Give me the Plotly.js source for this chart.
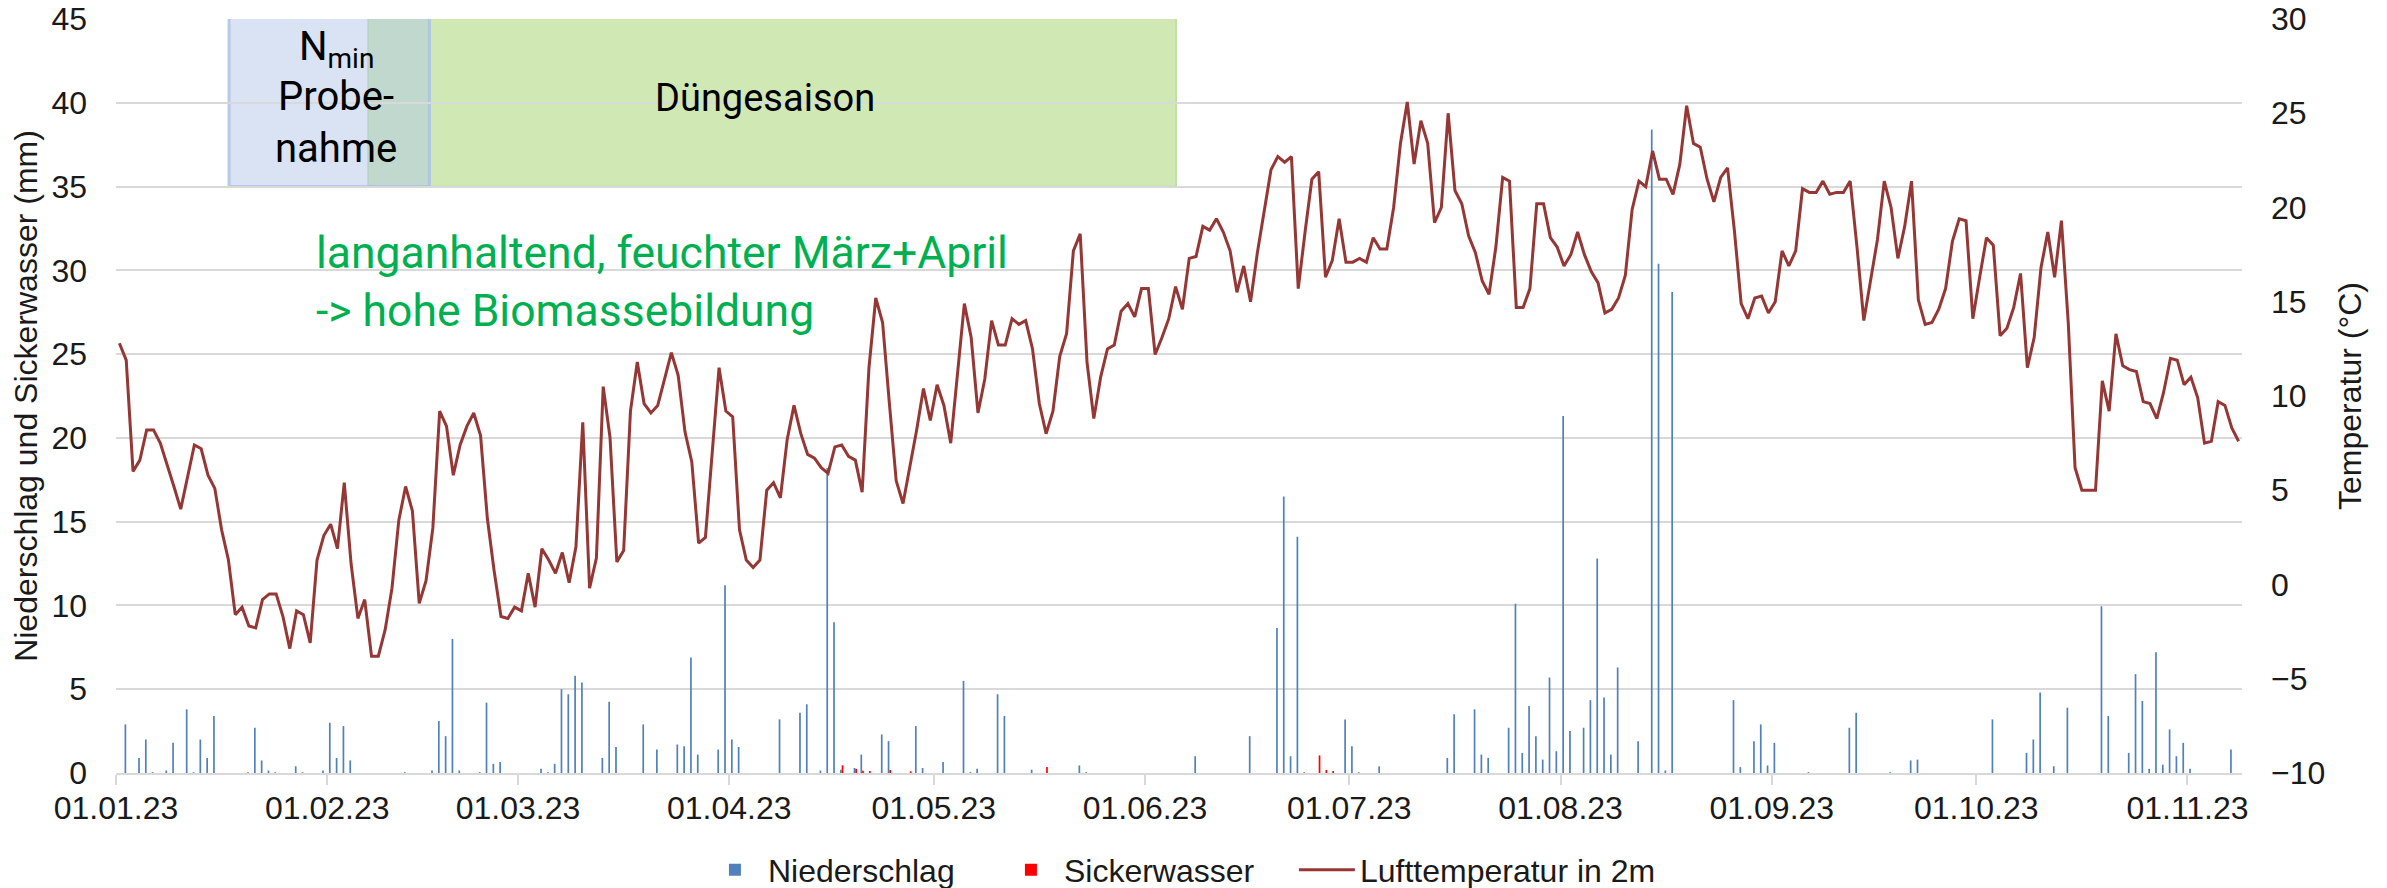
<!DOCTYPE html>
<html>
<head>
<meta charset="utf-8">
<script src="https://cdn.plot.ly/plotly-3.0.1.min.js"></script>
<style>
html,body{margin:0;padding:0;background:#fff;}
#chart{width:2387px;height:888px;}
</style>
</head>
<body>
<div id="chart"></div>
<script>
// Daily values, day 0 = 01.01.2023 ... day 311 = 08.11.2023
const startYear = 2023;

const lufttemperatur = [
  12.8, 11.9, 6.0, 6.6, 8.2, 8.2, 7.5, 6.4, 5.2, 4.0,
  5.8, 7.4, 7.2, 5.8, 5.1, 2.9, 1.3, -1.6, -1.2, -2.2,
  -2.3, -0.8, -0.5, -0.5, -1.7, -3.4, -1.4, -1.6, -3.1, 1.3,
  2.6, 3.2, 1.9, 5.4, 1.1, -1.8, -0.8, -3.8, -3.8, -2.4,
  -0.2, 3.4, 5.2, 3.9, -1.0, 0.2, 3.0, 9.2, 8.4, 5.8,
  7.4, 8.4, 9.1, 7.9, 3.5, 0.7, -1.7, -1.8, -1.2, -1.4,
  0.6, -1.2, 1.9, 1.3, 0.6, 1.7, 0.1, 2.0, 8.6, -0.2,
  1.4, 10.5, 7.8, 1.2, 1.8, 9.2, 11.8, 9.6, 9.1, 9.5,
  10.9, 12.3, 11.1, 8.1, 6.5, 2.2, 2.5, 7.0, 11.5, 9.2,
  8.9, 2.9, 1.3, 0.9, 1.3, 5.0, 5.4, 4.6, 7.7, 9.5,
  8.0, 6.9, 6.7, 6.2, 5.9, 7.3, 7.4, 6.8, 6.6, 4.9,
  11.5, 15.2, 13.9, 9.6, 5.5, 4.3, 6.2, 8.2, 10.4, 8.7,
  10.6, 9.5, 7.5, 11.3, 14.9, 13.1, 9.1, 10.9, 14.0, 12.7,
  12.7, 14.1, 13.8, 14.0, 12.5, 9.6, 8.0, 9.2, 12.1, 13.3,
  17.7, 18.6, 11.8, 8.8, 11.0, 12.5, 12.7, 14.5, 14.9, 14.2,
  15.7, 15.7, 12.2, 13.1, 14.1, 15.8, 14.6, 17.3, 17.4, 19.0,
  18.8, 19.4, 18.7, 17.7, 15.5, 16.9, 15.0, 17.6, 19.8, 22.0,
  22.7, 22.4, 22.7, 15.7, 18.7, 21.5, 21.9, 16.3, 17.2, 19.4,
  17.1, 17.1, 17.3, 17.1, 18.4, 17.8, 17.8, 20.0, 23.4, 25.6,
  22.3, 24.6, 23.4, 19.2, 20.0, 25.0, 20.9, 20.2, 18.5, 17.6,
  16.1, 15.4, 17.9, 21.6, 21.4, 14.7, 14.7, 15.7, 20.2, 20.2,
  18.4, 17.9, 16.9, 17.5, 18.7, 17.5, 16.6, 16.0, 14.4, 14.6,
  15.2, 16.4, 19.9, 21.4, 21.1, 23.0, 21.5, 21.5, 20.7, 22.3,
  25.4, 23.4, 23.2, 21.5, 20.3, 21.6, 22.1, 18.8, 14.9, 14.1,
  15.2, 15.3, 14.4, 15.0, 17.7, 16.9, 17.7, 21.0, 20.8, 20.8,
  21.4, 20.7, 20.8, 20.8, 21.4, 17.9, 14.0, 16.1, 18.3, 21.4,
  20.0, 17.3, 19.0, 21.4, 15.1, 13.8, 13.9, 14.6, 15.7, 18.2,
  19.4, 19.3, 14.1, 16.3, 18.4, 18.0, 13.2, 13.6, 14.7, 16.5,
  11.5, 13.1, 16.8, 18.7, 16.3, 19.3, 13.9, 6.2, 5.0, 5.0,
  5.0, 10.8, 9.2, 13.3, 11.6, 11.4, 11.3, 9.7, 9.6, 8.8,
  10.2, 12.0, 11.9, 10.6, 11.0, 9.9, 7.5, 7.6, 9.7, 9.5,
  8.3, 7.6
];

const niederschlag = [
  0, 2.9, 0, 0.9, 2.0, 0.05, 0, 0.15, 1.8, 0,
  3.8, 0.05, 2.0, 0.9, 3.4, 0, 0, 0, 0, 0.05,
  2.7, 0.75, 0.15, 0.05, 0, 0, 0.4, 0.05, 0, 0,
  0.15, 3.0, 0.9, 2.8, 0.75, 0, 0, 0, 0, 0,
  0, 0, 0.05, 0, 0, 0, 0.15, 3.1, 2.2, 8.0,
  0.15, 0, 0, 0.05, 4.2, 0.55, 0.65, 0, 0, 0,
  0, 0, 0.25, 0.05, 0.55, 5.0, 4.7, 5.8, 5.4, 0,
  0, 0.9, 4.25, 1.55, 0, 0, 0, 2.9, 0, 1.4,
  0, 0, 1.7, 1.6, 6.9, 1.1, 0, 0, 1.4, 11.2,
  2.0, 1.55, 0, 0, 0, 0, 0, 3.2, 0, 0,
  3.6, 4.1, 0, 0.15, 18.2, 9.0, 0.2, 0, 0.3, 1.1,
  0, 0, 2.3, 1.9, 0, 0, 0, 2.8, 0.3, 0,
  0, 0.65, 0, 0, 5.5, 0.05, 0.25, 0, 0, 4.7,
  3.4, 0, 0, 0, 0.2, 0, 0, 0, 0, 0,
  0, 0.45, 0.05, 0, 0, 0, 0, 0, 0, 0,
  0, 0, 0, 0, 0, 0, 0, 0, 1.0, 0,
  0, 0, 0, 0, 0, 0, 2.2, 0, 0, 0,
  8.65, 16.5, 1.0, 14.1, 0.05, 0, 0, 0, 0, 0,
  3.2, 1.6, 0.05, 0, 0, 0.4, 0, 0, 0, 0,
  0, 0, 0, 0, 0, 0.9, 3.5, 0, 0, 3.8,
  1.1, 0.9, 0, 0, 2.7, 10.1, 1.2, 4.0, 2.2, 0.8,
  5.7, 1.3, 21.3, 2.5, 0, 2.7, 4.35, 12.8, 4.5, 1.1,
  6.3, 0, 0, 1.9, 0, 38.4, 30.4, 0.15, 28.7, 0,
  0, 0, 0, 0, 0, 0, 0, 4.35, 0.35, 0,
  1.9, 2.9, 0.45, 1.8, 0, 0, 0, 0, 0.05, 0,
  0, 0, 0, 0, 2.7, 3.6, 0, 0, 0, 0,
  0.05, 0, 0, 0.75, 0.8, 0, 0, 0, 0, 0,
  0, 0, 0, 0, 0, 3.2, 0, 0, 0, 0,
  1.2, 2.0, 4.8, 0, 0.4, 0, 3.9, 0, 0, 0,
  0, 9.95, 3.4, 0, 0, 1.2, 5.9, 4.3, 0.25, 7.2,
  0.5, 2.6, 1.0, 1.8, 0.25, 0, 0, 0, 0, 0,
  1.4, 0
];

const sickerwasser = [
  0,0,0,0,0,0,0,0,0,0, 0,0,0,0,0,0,0,0,0,0,
  0,0,0,0,0,0,0,0,0,0, 0,0,0,0,0,0,0,0,0,0,
  0,0,0,0,0,0,0,0,0,0, 0,0,0,0,0,0,0,0,0,0,
  0,0,0,0,0,0,0,0,0,0, 0,0,0,0,0,0,0,0,0,0,
  0,0,0,0,0,0,0,0,0,0, 0,0,0,0,0,0,0,0,0,0,
  0,0,0,0,0,0,0.46,0,0.25,0.14, 0.12,0,0,0.18,0,0,0.1,0,0,0,
  0,0,0,0,0,0,0,0,0,0, 0,0,0,0,0,0,0.36,0,0,0,
  0,0,0,0,0,0,0,0,0,0, 0,0,0,0,0,0,0,0,0,0,
  0,0,0,0,0,0,0,0,0,0, 0,0,0,0,0,0,1.05,0.18,0.12,0,
  0,0,0,0,0,0,0,0,0,0, 0,0,0,0,0,0,0,0,0,0,
  0,0,0,0,0,0,0,0,0,0, 0,0,0,0,0,0,0,0,0,0,
  0,0,0,0,0,0,0,0,0,0, 0,0,0,0,0,0,0,0,0,0,
  0,0,0,0,0,0,0,0,0,0, 0,0,0,0,0,0,0,0,0,0,
  0,0,0,0,0,0,0,0,0,0, 0,0,0,0,0,0,0,0,0,0,
  0,0,0,0,0,0,0,0,0,0, 0,0,0,0,0,0,0,0,0,0,
  0,0,0,0,0,0,0,0,0,0, 0,0
];

const monthTicks = ['2023-01-01','2023-02-01','2023-03-01','2023-04-01','2023-05-01','2023-06-01',
                    '2023-07-01','2023-08-01','2023-09-01','2023-10-01','2023-11-01'];
const monthLabels = ['01.01.23','01.02.23','01.03.23','01.04.23','01.05.23','01.06.23',
                     '01.07.23','01.08.23','01.09.23','01.10.23','01.11.23'];
const leftTicks = [0,5,10,15,20,25,30,35,40,45];
const rightTicks = [-10,-5,0,5,10,15,20,25,30];

function dayDate(i){
  const d = new Date(Date.UTC(startYear, 0, 1 + i, 12));
  return d.toISOString().slice(0,10) + ' 12:00';
}
const dates = lufttemperatur.map((_, i) => dayDate(i));

const axisFont = {family: 'Liberation Sans, Arial, sans-serif', size: 32, color: '#1a1a1a'};
const noteFont = 'Roboto, Liberation Sans, sans-serif';

const traces = [
  {
    type: 'bar', name: 'Niederschlag', x: dates, y: niederschlag,
    marker: {color: '#4f81bd', line: {width: 0}}, yaxis: 'y', xaxis: 'x'
  },
  {
    type: 'bar', name: 'Sickerwasser', x: dates, y: sickerwasser,
    marker: {color: '#ff0000', line: {width: 0}}, yaxis: 'y', xaxis: 'x'
  },
  {
    type: 'scatter', mode: 'lines', name: 'Lufttemperatur in 2m', x: dates, y: lufttemperatur,
    line: {color: '#953735', width: 3}, yaxis: 'y2', xaxis: 'x', legendwidth: 330
  }
];

const layout = {
  width: 2387, height: 888,
  margin: {l: 116, r: 145, t: 19, b: 115, pad: 0, autoexpand: false},
  paper_bgcolor: '#ffffff', plot_bgcolor: '#ffffff',
  font: axisFont,
  barmode: 'group', bargap: 0.5, bargroupgap: 0,
  showlegend: true,
  legend: {
    orientation: 'h', x: 0.2756, xanchor: 'left', y: -0.1286, yanchor: 'middle',
    font: axisFont, traceorder: 'normal', bgcolor: 'rgba(0,0,0,0)',
    itemwidth: 56, entrywidth: 225, entrywidthmode: 'pixels'
  },
  xaxis: {
    type: 'date', range: ['2023-01-01', '2023-11-09'],
    tickmode: 'array', tickvals: monthTicks, ticktext: monthLabels,
    ticks: '', ticklabelstandoff: 6,
    minor: {tickmode: 'array', tickvals: monthTicks, ticks: 'outside', ticklen: 10, tickwidth: 2, tickcolor: '#d9d9d9', showgrid: false},
    showline: true, linecolor: '#d9d9d9', linewidth: 2,
    showgrid: false, zeroline: false,
    tickfont: axisFont
  },
  yaxis: {
    range: [0, 45], tickmode: 'array', tickvals: leftTicks,
    showgrid: true, gridcolor: '#d9d9d9', gridwidth: 2,
    zeroline: false, showline: false, ticks: '', ticklabelstandoff: 28,
    tickfont: axisFont,
    title: {text: 'Niederschlag und Sickerwasser (mm)', font: axisFont, standoff: 4}
  },
  yaxis2: {
    overlaying: 'y', side: 'right', range: [-10, 30], tickmode: 'array', tickvals: rightTicks,
    showgrid: false, zeroline: false, showline: false, ticks: '', ticklabelstandoff: 28,
    tickfont: axisFont,
    title: {text: 'Temperatur (°C)', font: axisFont, standoff: 14}
  },
  shapes: [
    {
      type: 'rect', xref: 'x', yref: 'y', layer: 'below',
      x0: '2023-02-07', x1: '2023-06-05 14:00', y0: 35, y1: 45.1,
      fillcolor: '#cfe8b4', line: {color: '#b9dc9e', width: 1.5}
    },
    {
      type: 'rect', xref: 'x', yref: 'y', layer: 'below',
      x0: '2023-01-17 14:00', x1: '2023-02-16', y0: 35, y1: 45.1,
      fillcolor: 'rgba(180,199,231,0.5)', line: {color: 'rgba(170,192,230,0.8)', width: 3}
    }
  ],
  annotations: [
    {
      xref: 'x', yref: 'y', x: '2023-02-02 07:00', y: 43.2,
      text: 'N<sub>min</sub>', showarrow: false,
      xanchor: 'center', yanchor: 'middle', align: 'center',
      font: {family: noteFont, size: 40, color: '#000000'}
    },
    {
      xref: 'x', yref: 'y', x: '2023-02-02 07:00', y: 38.85,
      text: 'Probe-<br>nahme', showarrow: false,
      xanchor: 'center', yanchor: 'middle', align: 'center',
      font: {family: noteFont, size: 40, color: '#000000'}
    },
    {
      xref: 'x', yref: 'y', x: '2023-04-06 07:00', y: 40.3,
      text: 'Düngesaison', showarrow: false,
      xanchor: 'center', yanchor: 'middle',
      font: {family: noteFont, size: 38, color: '#000000'}
    },
    {
      xref: 'x', yref: 'y', x: '2023-01-30 02:00', y: 29.3,
      text: 'langanhaltend, feuchter März+April<br>-> hohe Biomassebildung', showarrow: false,
      xanchor: 'left', yanchor: 'middle', align: 'left',
      font: {family: noteFont, size: 44.5, color: '#00b050'}
    }
  ]
};

Plotly.newPlot('chart', traces, layout, {staticPlot: true, displayModeBar: false});
</script>
</body>
</html>
